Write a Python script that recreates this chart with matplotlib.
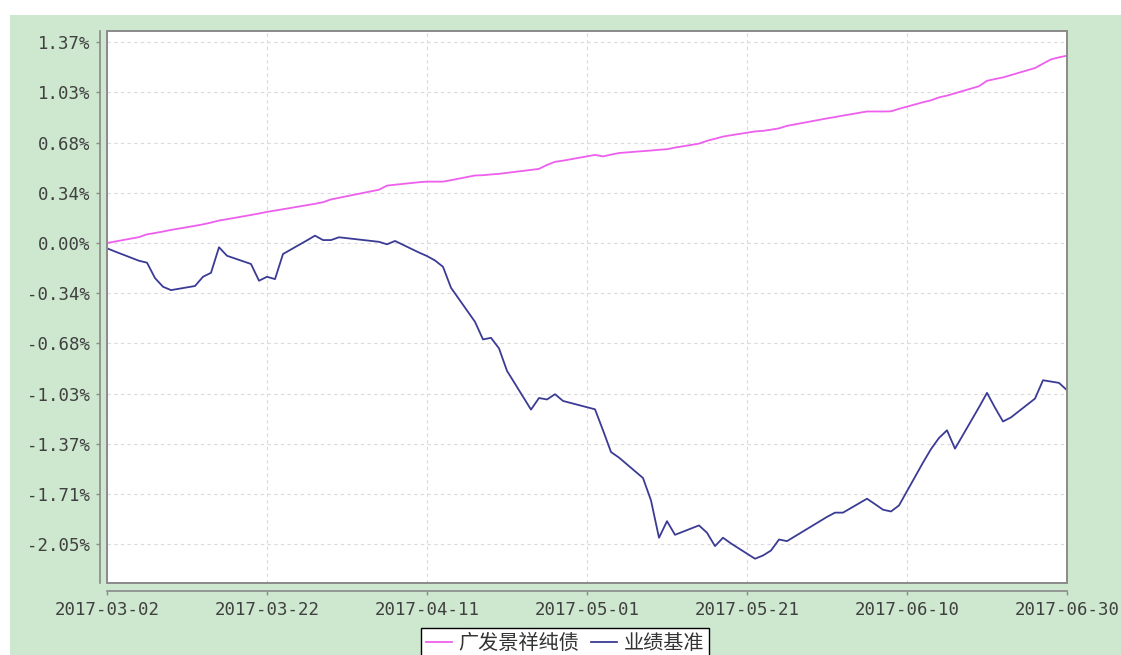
import matplotlib
matplotlib.use('Agg')
import matplotlib.pyplot as plt
import matplotlib.dates as mdates
from matplotlib.patches import Rectangle
from matplotlib.lines import Line2D
import datetime as dt

# ---------------- data ----------------
dates = [
    "2017-03-02", "2017-03-03", "2017-03-06", "2017-03-07", "2017-03-08", "2017-03-09", "2017-03-10",
    "2017-03-13", "2017-03-14", "2017-03-15", "2017-03-16", "2017-03-17", "2017-03-20", "2017-03-21",
    "2017-03-22", "2017-03-23", "2017-03-24", "2017-03-27", "2017-03-28", "2017-03-29", "2017-03-30",
    "2017-03-31", "2017-04-05", "2017-04-06", "2017-04-07", "2017-04-10", "2017-04-11", "2017-04-12",
    "2017-04-13", "2017-04-14", "2017-04-17", "2017-04-18", "2017-04-19", "2017-04-20", "2017-04-21",
    "2017-04-24", "2017-04-25", "2017-04-26", "2017-04-27", "2017-04-28", "2017-05-02", "2017-05-03",
    "2017-05-04", "2017-05-05", "2017-05-08", "2017-05-09", "2017-05-10", "2017-05-11", "2017-05-12",
    "2017-05-15", "2017-05-16", "2017-05-17", "2017-05-18", "2017-05-19", "2017-05-22", "2017-05-23",
    "2017-05-24", "2017-05-25", "2017-05-26", "2017-05-31", "2017-06-01", "2017-06-02", "2017-06-05",
    "2017-06-06", "2017-06-07", "2017-06-08", "2017-06-09", "2017-06-12", "2017-06-13", "2017-06-14",
    "2017-06-15", "2017-06-16", "2017-06-19", "2017-06-20", "2017-06-21", "2017-06-22", "2017-06-23",
    "2017-06-26", "2017-06-27", "2017-06-28", "2017-06-29", "2017-06-30",
]

fund = [
    0.000, 0.010, 0.040, 0.059, 0.068, 0.078, 0.089,
    0.117, 0.127, 0.139, 0.153, 0.162, 0.191, 0.201,
    0.212, 0.221, 0.230, 0.258, 0.267, 0.278, 0.297,
    0.308, 0.363, 0.391, 0.397, 0.414, 0.418, 0.418,
    0.418, 0.428, 0.460, 0.462, 0.467, 0.471, 0.478,
    0.498, 0.505, 0.532, 0.553, 0.561, 0.600, 0.590,
    0.602, 0.613, 0.626, 0.630, 0.635, 0.639, 0.650,
    0.677, 0.696, 0.710, 0.725, 0.734, 0.760, 0.764,
    0.772, 0.781, 0.798, 0.849, 0.858, 0.868, 0.896,
    0.896, 0.896, 0.897, 0.914, 0.959, 0.972, 0.992,
    1.004, 1.020, 1.068, 1.105, 1.117, 1.128, 1.144,
    1.192, 1.222, 1.251, 1.265, 1.276,
]

bench = [
    -0.036, -0.058, -0.121, -0.134, -0.239, -0.298, -0.321,
    -0.293, -0.230, -0.203, -0.029, -0.087, -0.143, -0.257,
    -0.230, -0.246, -0.075, 0.018, 0.050, 0.020, 0.020,
    0.039, 0.008, -0.009, 0.014, -0.065, -0.089, -0.119,
    -0.162, -0.305, -0.537, -0.657, -0.646, -0.718, -0.871,
    -1.135, -1.056, -1.066, -1.030, -1.076, -1.133, -1.276,
    -1.424, -1.462, -1.601, -1.754, -2.008, -1.895, -1.988,
    -1.924, -1.974, -2.065, -2.008, -2.047, -2.151, -2.129,
    -2.095, -2.020, -2.031, -1.866, -1.837, -1.837, -1.742,
    -1.779, -1.817, -1.829, -1.788, -1.496, -1.404, -1.328,
    -1.276, -1.401, -1.119, -1.021, -1.122, -1.216, -1.188,
    -1.060, -0.935, -0.944, -0.953, -1.003,
]

series_names = ["广发景祥纯债", "业绩基准"]
y_tick_labels = ["-2.05%", "-1.71%", "-1.37%", "-1.03%", "-0.68%", "-0.34%",
                 "0.00%", "0.34%", "0.68%", "1.03%", "1.37%"]
y_tick_step = 0.342
x_tick_labels = ["2017-03-02", "2017-03-22", "2017-04-11", "2017-05-01",
                 "2017-05-21", "2017-06-10", "2017-06-30"]

# ---------------- figure ----------------
W, H = 1121, 655
fig = plt.figure(figsize=(W / 100, H / 100), dpi=100)
fig.patch.set_facecolor('white')
green = '#cde8cf'
fig.add_artist(Rectangle((10 / W, 0), (W - 10) / W, 640 / H, transform=fig.transFigure,
                         facecolor=green, edgecolor='none', zorder=-10))

ax = fig.add_axes([107 / W, (H - 583) / H, 960 / W, 552 / H])
ax.set_facecolor('white')

x = [dt.datetime.strptime(d, "%Y-%m-%d") for d in dates]
fund_color = '#ee5fee'
bench_color = '#3b3b96'
ax.plot(x, fund, color=fund_color, lw=1.3, zorder=3)
ax.plot(x, bench, color=bench_color, lw=1.3, zorder=3)

xt = [dt.datetime.strptime(d, "%Y-%m-%d") for d in x_tick_labels]
ax.set_xlim(xt[0], xt[-1])
ax.set_xticks(xt)
ax.set_xticklabels(x_tick_labels)

yt = [y_tick_step * k for k in range(-6, 5)]
ax.set_yticks(yt)
ax.set_yticklabels(y_tick_labels)
ax.set_ylim(-6.7729 * y_tick_step, 4.2231 * y_tick_step)

ax.grid(True, color='#dadada', linestyle=(0, (3, 3)), linewidth=0.8, zorder=0)

for s in ['top', 'right']:
    ax.spines[s].set_visible(False)
ax.spines['left'].set_position(('outward', 5))
ax.spines['bottom'].set_position(('outward', 5.8))
for s in ['left', 'bottom']:
    ax.spines[s].set_color('#8a8a8a')
    ax.spines[s].set_linewidth(1.2)

ax.add_patch(Rectangle((0, 0), 1, 1, transform=ax.transAxes, fill=False,
                       edgecolor='#8a8a8a', lw=1.4, clip_on=False, zorder=5))

ax.tick_params(axis='both', direction='out', length=3, width=1, color='#8a8a8a',
               labelcolor='#404040', labelsize=12.5, pad=4)
for lbl in ax.get_xticklabels() + ax.get_yticklabels():
    lbl.set_fontfamily('DejaVu Sans Mono')

handles = [Line2D([], [], color=fund_color, lw=1.3), Line2D([], [], color=bench_color, lw=1.3)]
leg = fig.legend(handles, series_names, loc='upper center',
                 bbox_to_anchor=(565 / W, 1 - 628 / H), ncol=2, frameon=True,
                 fancybox=False, edgecolor='black', framealpha=1,
                 handlelength=1.3, handletextpad=0.3, columnspacing=0.6,
                 borderpad=0.25, borderaxespad=0,
                 prop={'family': ['Noto Sans CJK SC', 'DejaVu Sans'], 'size': 14.5})
leg.get_frame().set_linewidth(1.0)
for t in leg.get_texts():
    t.set_color('#333333')

fig.savefig('out.png', dpi=100, facecolor=fig.get_facecolor())
